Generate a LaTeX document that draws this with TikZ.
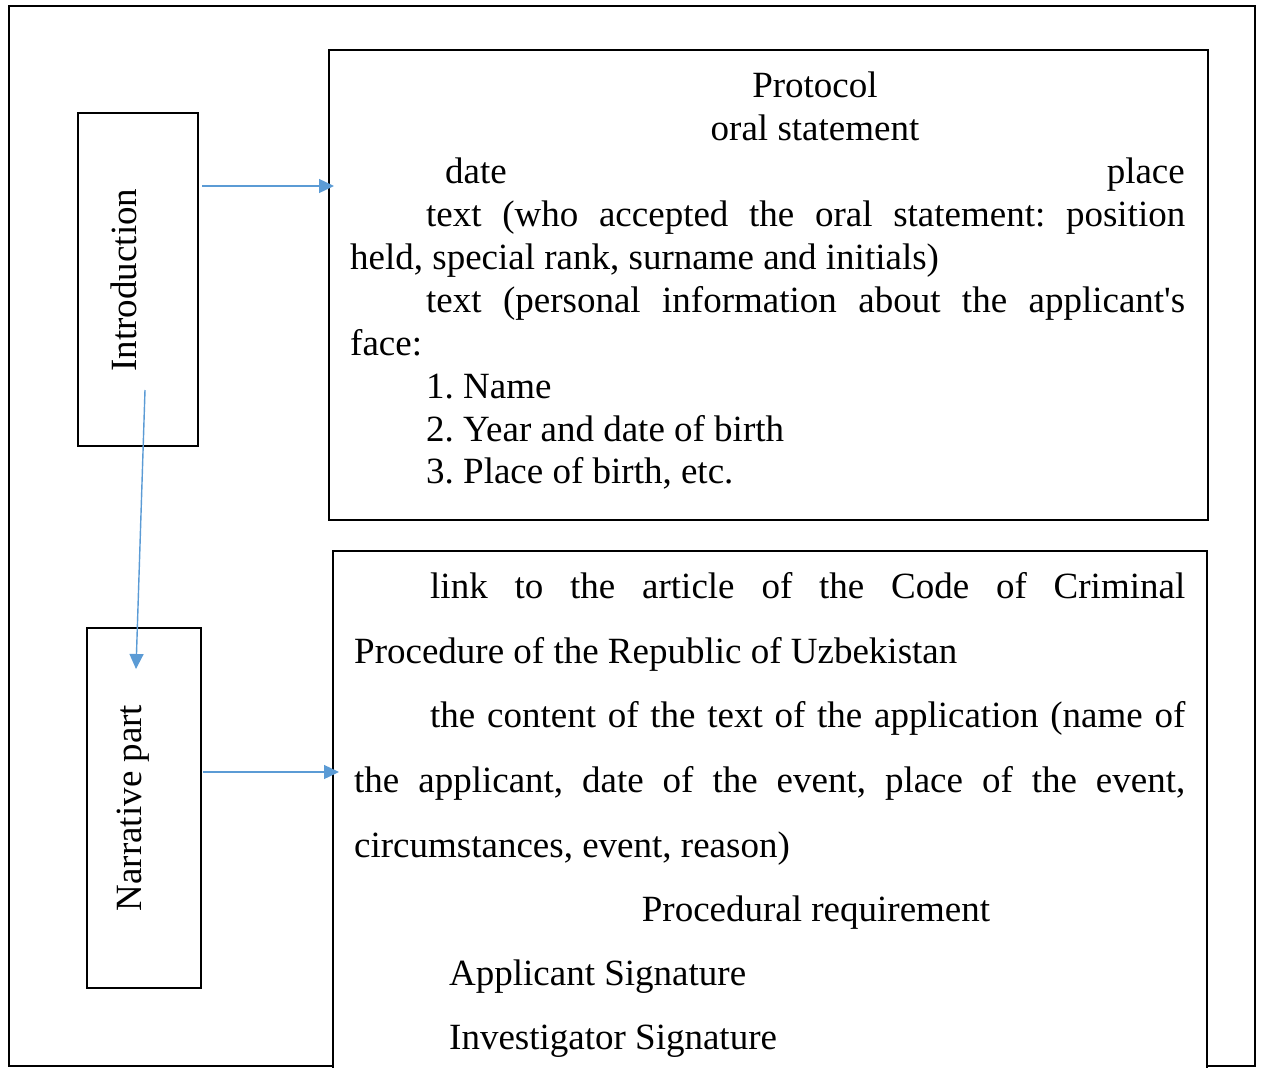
\documentclass[tikz,border=0pt]{standalone}
\usepackage{fontspec}
\setmainfont{Liberation Serif}
\newfontfamily\straightfont{Liberation Serif}
\usetikzlibrary{arrows.meta,calc}
\definecolor{arrowblue}{HTML}{5B9BD5}
\frenchspacing
\tikzset{
  bigbox/.style={draw=black,line width=2.4pt},
  smallbox/.style={draw=black,line width=2pt,inner sep=0pt},
  txt/.style={inner sep=0pt,anchor=base west,font=\fontsize{37}{43}\selectfont},
  ctxt/.style={inner sep=0pt,anchor=base,font=\fontsize{37}{43}\selectfont},
  rtxt/.style={inner sep=0pt,anchor=base east,font=\fontsize{37}{43}\selectfont},
  vtxt/.style={inner sep=0pt,anchor=base,rotate=90,font=\fontsize{37}{43}\selectfont},
  conn/.style={draw=arrowblue,line width=1.4pt,-{Triangle[length=15pt,width=14pt]}}
}
\begin{document}
\begin{tikzpicture}[x=1pt,y=-1pt]
\useasboundingbox (0,0) rectangle (1261,1068);
% outer frame
\draw[line width=2.4pt] (333,1066) -- (9,1066) -- (9,6) -- (1255,6) -- (1255,1066) -- (1207,1066);
% boxes
\node[bigbox,minimum width=879pt,minimum height=470pt,inner sep=0pt] (top) at (768.5,285) {};
\draw[bigbox] (333,1068) -- (333,551) -- (1207,551) -- (1207,1068);
\node[smallbox,minimum width=120pt,minimum height=333pt] (intro) at (138,279.5) {};
\node[smallbox,minimum width=114pt,minimum height=360pt] (narr) at (144,808) {};
% rotated labels
\node[vtxt] (introlbl) at (136,280) {Introduction};
\node[vtxt] (narrlbl) at (141,808) {Narrative part};
% top box text
\node[ctxt] (p1) at (815,97) {Protocol};
\node[ctxt] (p2) at (815,140) {oral statement};
\node[txt] (p3) at (445,183) {date};
\node[rtxt] (p3b) at (1185,183) {place};
\node[txt] (p4) at (426,226) {\makebox[759pt][s]{text (who accepted the oral statement: position}};
\node[txt] (p5) at (350,269) {held, special rank, surname and initials)};
\node[txt] (p6) at (426,312) {\makebox[759pt][s]{text (personal information about the applicant{\straightfont'}s}};
\node[txt] (p7) at (350,355) {face:};
\node[txt] (p8) at (426,398) {1. Name};
\node[txt] (p9) at (426,441) {2. Year and date of birth};
\node[txt] (p10) at (426,483) {3. Place of birth, etc.};
% bottom box text
\node[txt] (b1) at (430,598) {\makebox[755pt][s]{link to the article of the Code of Criminal}};
\node[txt] (b2) at (354,663) {Procedure of the Republic of Uzbekistan};
\node[txt] (b3) at (430,727) {\makebox[755pt][s]{the content of the text of the application (name of}};
\node[txt] (b4) at (354,792) {\makebox[831pt][s]{the applicant, date of the event, place of the event,}};
\node[txt] (b5) at (354,857) {circumstances, event, reason)};
\node[ctxt] (b6) at (816,921) {Procedural requirement};
\node[txt] (b7) at (449,985) {Applicant Signature};
\node[txt] (b8) at (449,1049) {Investigator Signature};
% connectors
\coordinate (a1s) at (202,186);
\coordinate (a1e) at (334,186);
\coordinate (a2s) at (203,772);
\coordinate (a2e) at (339,772);
\coordinate (a3s) at (145,390);
\coordinate (a3e) at (136,669);
\draw[conn] (a1s) -- (a1e);
\draw[conn] (a2s) -- (a2e);
\draw[conn] (a3s) -- (a3e);
\end{tikzpicture}
\end{document}
